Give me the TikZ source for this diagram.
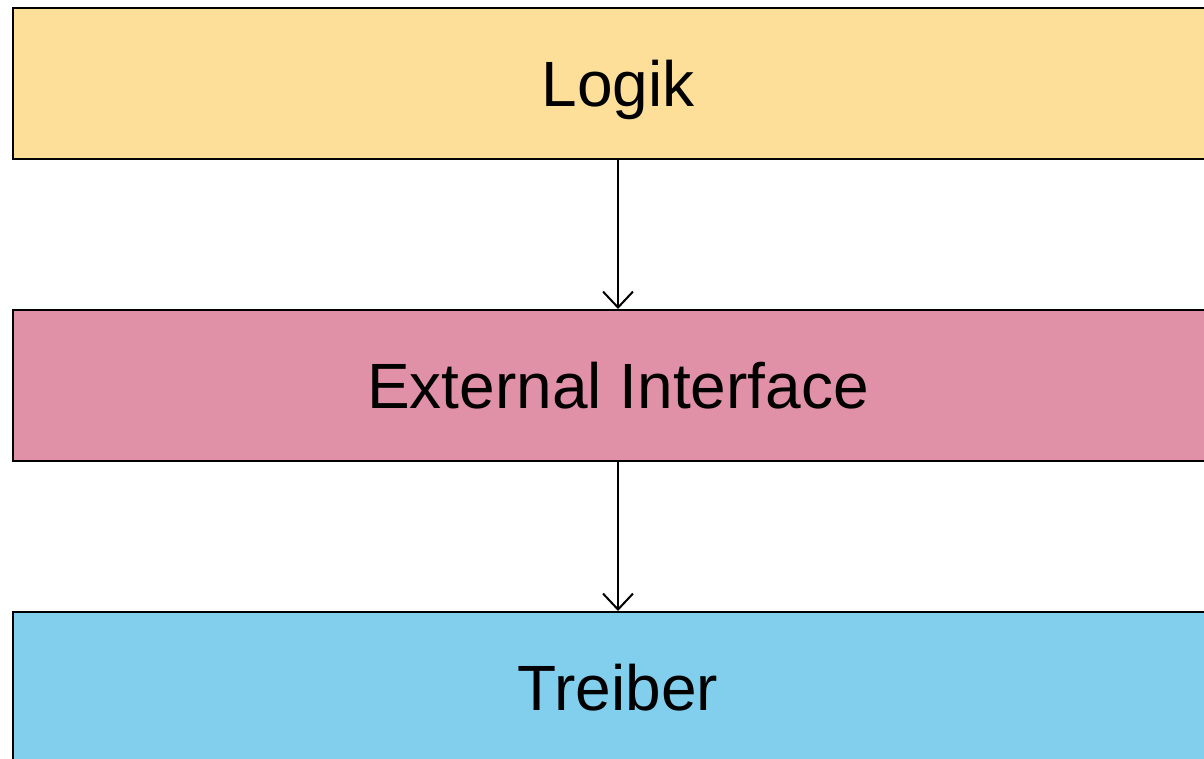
\documentclass[tikz,border=0pt]{standalone}
\usepackage{fontspec}
\setmainfont{Liberation Sans}
\usetikzlibrary{arrows.meta}
\definecolor{logikfill}{HTML}{FDDF99}
\definecolor{extfill}{HTML}{E091A8}
\definecolor{treiberfill}{HTML}{82CFED}
\tikzset{
  layer/.style={draw=black, line width=2pt, minimum width=1210pt, minimum height=151pt,
    inner sep=0pt, text height=45.8pt, text depth=0pt,
    font=\fontsize{64}{70}\selectfont},
  flow/.style={draw=black, line width=2pt,
    -{Straight Barb[length=16pt, width=30pt, line width=2pt]}}
}
\begin{document}
\begin{tikzpicture}[x=1pt, y=-1pt]
  \useasboundingbox (0,0) rectangle (1204,758);
  \clip (0,0) rectangle (1204,758);
  \node[layer, fill=logikfill] (logik) at (618,83.5) {Logik};
  \node[layer, fill=extfill] (ext) at (618,385.5) {External Interface};
  \node[layer, fill=treiberfill] (treiber) at (618,687.5) {Treiber};
  \draw[flow] (logik.south) -- (ext.north);
  \draw[flow] (ext.south) -- (treiber.north);
\end{tikzpicture}
\end{document}
